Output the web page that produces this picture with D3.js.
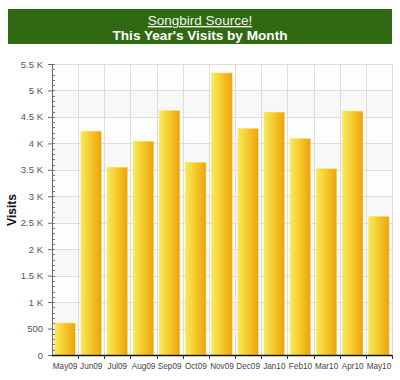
<!DOCTYPE html>
<html><head><meta charset="utf-8">
<script src="https://cdn.jsdelivr.net/npm/d3@7"></script>
<style>body{margin:0;background:#fff;}svg{display:block;font-family:"Liberation Sans",Arial,sans-serif;}</style>
</head><body><svg id="c" width="400" height="380"></svg>
<script>
const months = ["May09","Jun09","Jul09","Aug09","Sep09","Oct09","Nov09","Dec09","Jan10","Feb10","Mar10","Apr10","May10"];
const visits = [605, 4230, 3550, 4040, 4620, 3640, 5330, 4280, 4590, 4090, 3520, 4610, 2620];
const yTicks = [0,500,1000,1500,2000,2500,3000,3500,4000,4500,5000,5500];
const yTickLabels = ["0","500","1 K","1.5 K","2 K","2.5 K","3 K","3.5 K","4 K","4.5 K","5 K","5.5 K"];
const titleTop = "Songbird Source!";
const titleMain = "This Year's Visits by Month";
const yTitle = "Visits";

const svg = d3.select("#c");
const L = 52, R = 392, T = 64, B = 355;
const x = d3.scaleBand().domain(months).range([L, R]).paddingInner(0.22).paddingOuter(0.11);
const y = d3.scaleLinear().domain([0, 5500]).range([B, T]);

// banner
svg.append("rect").attr("x", 8).attr("y", 9).attr("width", 384).attr("height", 35).attr("fill", "#2f6a12");
svg.append("text").attr("x", 200).attr("y", 25).attr("text-anchor", "middle").attr("fill", "#f2f2f2")
  .attr("font-size", 13.5).attr("text-decoration", "underline").text(titleTop);
svg.append("text").attr("x", 200).attr("y", 40).attr("text-anchor", "middle").attr("fill", "#ffffff")
  .attr("font-size", 13.6).attr("font-weight", "bold").text(titleMain);

// gradient
const defs = svg.append("defs");
const g = defs.append("linearGradient").attr("id", "bg").attr("x1", "0").attr("x2", "1").attr("y1", "0").attr("y2", "0");
g.append("stop").attr("offset", "0%").attr("stop-color", "#f5ea60");
g.append("stop").attr("offset", "45%").attr("stop-color", "#f5cc2c");
g.append("stop").attr("offset", "100%").attr("stop-color", "#eda20c");

// alternating background bands
const bandTicks = yTicks.slice(0, -1);
svg.append("g").selectAll("rect").data(bandTicks).join("rect")
  .attr("x", L).attr("width", R - L)
  .attr("y", d => y(d + 500)).attr("height", d => y(d) - y(d + 500))
  .attr("fill", (d, i) => i % 2 ? "#f8f8f8" : "#fdfdfd");

// grid
const grid = svg.append("g").attr("stroke", "#dddddd").attr("stroke-width", 1);
grid.selectAll("line.h").data(yTicks.slice(1)).join("line")
  .attr("x1", L).attr("x2", R).attr("y1", d => Math.round(y(d)) + 0.5).attr("y2", d => Math.round(y(d)) + 0.5);
const step = x.step();
const bounds = months.map((m, i) => L + step * (i + 1));
grid.selectAll("line.v").data(bounds).join("line")
  .attr("y1", T).attr("y2", B).attr("x1", d => Math.round(d) + 0.5).attr("x2", d => Math.round(d) + 0.5);

// bars
svg.append("g").selectAll("rect").data(visits).join("rect")
  .attr("x", (d, i) => x(months[i])).attr("width", x.bandwidth())
  .attr("y", d => y(d)).attr("height", d => B - y(d))
  .attr("fill", "url(#bg)").attr("stroke", "#f8e36a").attr("stroke-width", 0.6);

// y axis
const yAxis = d3.axisLeft(y).tickValues(yTicks).tickFormat((d, i) => yTickLabels[i]).tickSize(4).tickPadding(5);
const ya = svg.append("g").attr("transform", `translate(${L},0)`).call(yAxis);
ya.select(".domain").attr("stroke", "#666");
ya.selectAll(".tick line").attr("stroke", "#666");
ya.selectAll("text").attr("font-size", 9.5).attr("fill", "#555");
const minor = d3.range(0, 5501, 100);
svg.append("g").selectAll("line").data(minor).join("line")
  .attr("x1", L).attr("x2", L + 3).attr("y1", d => Math.round(y(d)) + 0.5).attr("y2", d => Math.round(y(d)) + 0.5)
  .attr("stroke", "#777");

// x axis
svg.append("line").attr("x1", L).attr("x2", R).attr("y1", B + 0.5).attr("y2", B + 0.5).attr("stroke", "#111").attr("stroke-width", 1.5);
svg.append("g").selectAll("line").data(bounds).join("line")
  .attr("x1", d => Math.round(d) + 0.5).attr("x2", d => Math.round(d) + 0.5).attr("y1", B).attr("y2", B + 4).attr("stroke", "#333");
svg.append("g").selectAll("text").data(months).join("text")
  .attr("x", d => x(d) + x.bandwidth() / 2).attr("y", 369).attr("text-anchor", "middle")
  .attr("font-size", 8.2).attr("fill", "#444").text(d => d);

// y title
svg.append("text").attr("transform", "translate(16,210) rotate(-90)").attr("text-anchor", "middle")
  .attr("font-size", 12).attr("font-weight", "bold").attr("fill", "#111").text(yTitle);
</script></body></html>
